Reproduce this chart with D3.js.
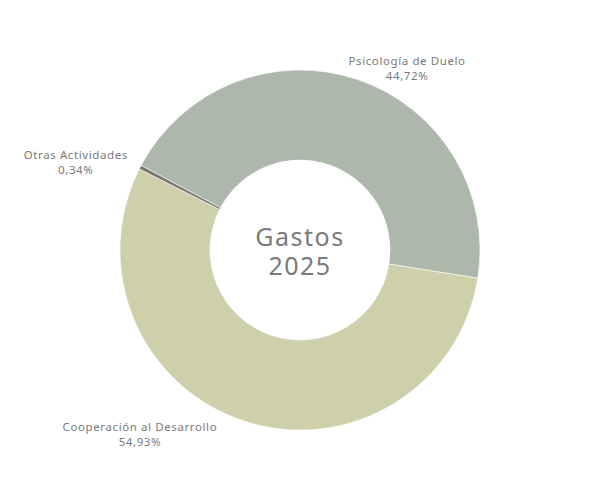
<!DOCTYPE html>
<html>
<head>
<meta charset="utf-8">
<script src="https://cdn.jsdelivr.net/npm/d3@7"></script>
<style>
  body { margin: 0; background: #fff; }
  text { font-family: "Noto Sans", "Open Sans", sans-serif; fill: #7a7a7a; }
</style>
</head>
<body>
<svg id="chart" width="600" height="500"></svg>
<script>
// Slices, clockwise order
const categories = ["Psicología de Duelo", "Cooperación al Desarrollo", "Otras Actividades"];
const percentages = [44.72, 54.93, 0.34];
const percentLabels = ["44,72%", "54,93%", "0,34%"];
const sliceColors = ["#adb7ac", "#cecfab", "#77776f"];
const centerTitle = ["Gastos", "2025"];

const width = 600, height = 500;
const cx = 300, cy = 250;
const outerRadius = 180, innerRadius = 90;

// label placement (angle in degrees from 12 o'clock, radius from centre)
const labelLayout = [
    { angle: 30.5, r: 211 },
    { angle: 221, r: 244 },
    { angle: 291.5, r: 241 }
];

const svg = d3.select("#chart");
const g = svg.append("g").attr("transform", `translate(${cx},${cy})`);

const data = categories.map((name, i) => ({ name, value: percentages[i], label: percentLabels[i], color: sliceColors[i] }));

const startDeg = -62;
const pie = d3.pie()
    .sort(null)
    .value(d => d.value)
    .startAngle(startDeg * Math.PI / 180)
    .endAngle((startDeg + 360) * Math.PI / 180);

const arc = d3.arc().innerRadius(innerRadius).outerRadius(outerRadius);

g.selectAll("path")
    .data(pie(data))
    .join("path")
    .attr("d", arc)
    .attr("fill", d => d.data.color)
    .attr("stroke", "#fff")
    .attr("stroke-width", 0.6);

// Slice labels
const labels = g.selectAll("g.label")
    .data(data)
    .join("g")
    .attr("class", "label")
    .attr("transform", (d, i) => {
        const a = labelLayout[i].angle * Math.PI / 180;
        const r = labelLayout[i].r;
        return `translate(${r * Math.sin(a)},${-r * Math.cos(a)})`;
    });

labels.append("text")
    .attr("text-anchor", "middle")
    .attr("y", -3)
    .style("font-size", "11.5px")
    .style("letter-spacing", "0.6px")
    .text(d => d.name);

labels.append("text")
    .attr("text-anchor", "middle")
    .attr("y", 12)
    .style("font-size", "11.5px")
    .style("letter-spacing", "0.6px")
    .text(d => d.label);

// Centre title
g.selectAll("text.center")
    .data(centerTitle)
    .join("text")
    .attr("class", "center")
    .attr("text-anchor", "middle")
    .attr("y", (d, i) => -4 + i * 29)
    .style("font-size", "25px")
    .style("letter-spacing", "1.5px")
    .text(d => d);
</script>
</body>
</html>
